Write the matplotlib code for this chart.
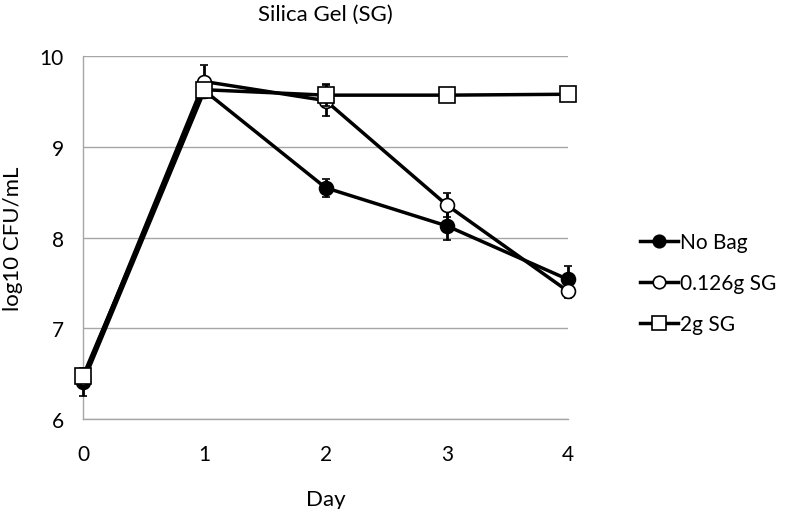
import numpy as np
import matplotlib.pyplot as plt
from matplotlib.lines import Line2D

plt.rcParams['font.family'] = ['Lato', 'DejaVu Sans']

days = [0, 1, 2, 3, 4]
no_bag = [6.41, 9.62, 8.55, 8.13, 7.54]
no_bag_err = [0.15, 0.05, 0.10, 0.16, 0.15]
sg_0126 = [6.45, 9.72, 9.51, 8.36, 7.41]
sg_0126_err = [0.05, 0.18, 0.17, 0.13, 0.07]
sg_2 = [6.48, 9.63, 9.57, 9.57, 9.58]
sg_2_err = [0.05, 0.05, 0.12, 0.02, 0.02]

fig = plt.figure(figsize=(8, 5.1), dpi=100)
ax = fig.add_axes([0.104, 0.176, 0.606, 0.712])

styles = [
    (no_bag, no_bag_err, 'o', 10, 'black', 'No Bag'),
    (sg_0126, sg_0126_err, 'o', 10, 'white', '0.126g SG'),
    (sg_2, sg_2_err, 's', 11, 'white', '2g SG'),
]
handles = []
for i, (vals, err, mk, ms, fc, lab) in enumerate(styles):
    c = ax.errorbar(days, vals, yerr=err, color='black', lw=2.5, marker=mk,
                    ms=ms, mfc=fc, mec='black', mew=1.2, capsize=3, capthick=2,
                    elinewidth=2, zorder=3 + i)
    c.lines[0].set_clip_on(False)
    for art in c.lines[1] + c.lines[2]:
        art.set_clip_on(False)
    handles.append(Line2D([], [], color='black', lw=2.5, marker=mk, ms=ms - 1,
                          mfc=fc, mec='black', mew=1.2, label=lab))

ax.set_xlim(0, 4)
ax.set_ylim(6, 10)
ax.set_xticks(days)
ax.set_yticks([6, 7, 8, 9, 10])
ax.grid(axis='y', color='#a6a6a6', lw=1)
ax.set_axisbelow(True)
for s in ['top', 'right']:
    ax.spines[s].set_visible(False)
for s in ['left', 'bottom']:
    ax.spines[s].set_color('#a6a6a6')
    ax.spines[s].set_linewidth(1)
ax.tick_params(length=0, labelsize=15, pad=14)
ax.tick_params(axis='x', pad=18)

ax.set_xlabel('Day', fontsize=16, labelpad=18)
ax.set_ylabel('log10 CFU/mL', fontsize=16, labelpad=12)
ax.set_title('Silica Gel (SG)', fontsize=16, pad=26)

ax.legend(handles=handles, loc='center left', bbox_to_anchor=(1.11, 0.375),
          frameon=False, fontsize=15, handlelength=1.8, labelspacing=1.0,
          handletextpad=0.1)

fig.savefig('out.png', dpi=100)
